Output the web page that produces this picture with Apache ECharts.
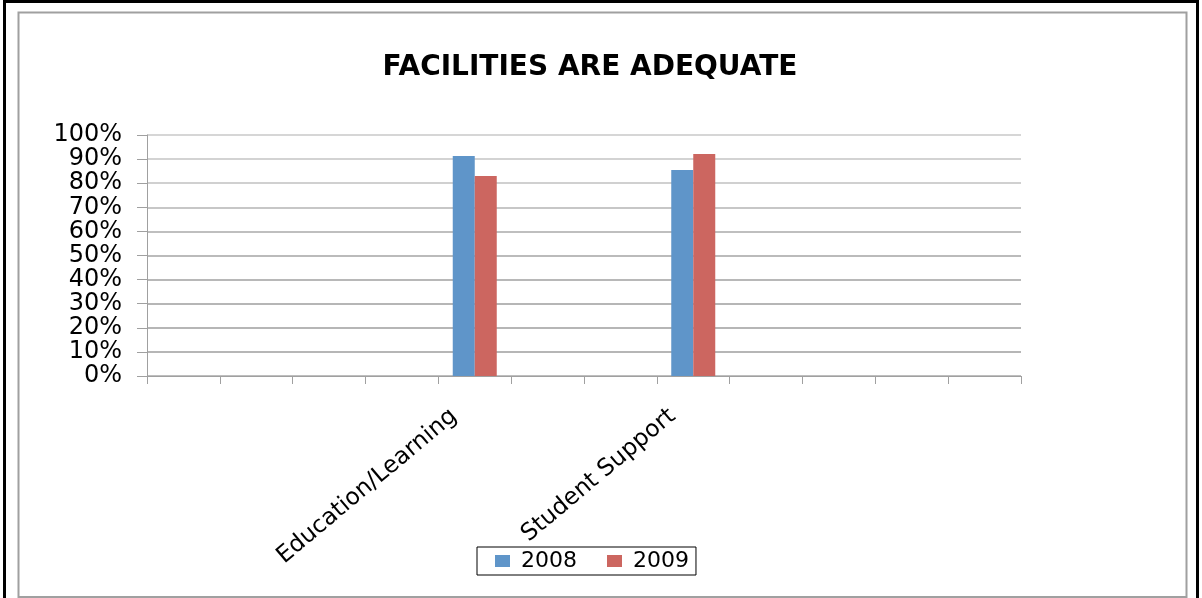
<!DOCTYPE html>
<html>
<head>
<meta charset="utf-8">
<title>Facilities Are Adequate</title>
<script src="https://cdn.jsdelivr.net/npm/echarts@6/dist/echarts.min.js"></script>
<style>
  html, body { margin: 0; padding: 0; background: #ffffff; }
  #chart { width: 1202px; height: 598px; }
</style>
</head>
<body>
<div id="chart"></div>
<script>
// Category slots along the x axis; only two carry survey results
const categories = ['', '', '', '', 'Education/Learning', '', '', 'Student Support', '', '', '', ''];
const values2008 = [null, null, null, null, 91.3, null, null, 85.5, null, null, null, null];
const values2009 = [null, null, null, null, 83.0, null, null, 92.1, null, null, null, null];
const seriesNames = ['2008', '2009'];
const yTicks = [0, 10, 20, 30, 40, 50, 60, 70, 80, 90, 100];

const FONT = '"DejaVu Sans", "Open Sans", sans-serif';

const chart = echarts.init(document.getElementById('chart'), null, { renderer: 'canvas' });

chart.setOption({
  animation: false,
  backgroundColor: '#ffffff',
  title: {
    text: 'FACILITIES ARE ADEQUATE',
    left: 585,
    textAlign: 'center',
    top: 49,
    textStyle: { fontFamily: FONT, fontSize: 28, fontWeight: 'bold', color: '#000000' }
  },
  legend: {
    data: seriesNames,
    left: 477,
    top: 547,
    orient: 'horizontal',
    itemWidth: 15,
    itemHeight: 12,
    itemGap: 30,
    padding: [3, 7, 3, 18],
    borderColor: '#000000',
    borderWidth: 1,
    icon: 'rect',
    textStyle: { fontFamily: FONT, fontSize: 22, color: '#000000', padding: [0, 0, 0, 6] }
  },
  grid: { left: 147, right: 181, top: 135, bottom: 222, containLabel: false },
  xAxis: {
    type: 'category',
    data: categories,
    axisLine: { lineStyle: { color: '#a0a0a0', width: 1 } },
    axisTick: { show: true, length: 8, interval: 0, lineStyle: { color: '#a0a0a0' } },
    axisLabel: {
      interval: 0,
      rotate: 40,
      margin: 20,
      padding: [0, 27, 0, 0],
      fontFamily: FONT,
      fontSize: 23.5,
      color: '#000000'
    },
    splitLine: { show: false }
  },
  yAxis: {
    type: 'value',
    min: 0,
    max: 100,
    interval: 10,
    axisLine: { show: true, lineStyle: { color: '#a0a0a0', width: 1 } },
    axisTick: { show: true, length: 10, lineStyle: { color: '#a0a0a0' } },
    axisLabel: {
      margin: 25,
      fontFamily: FONT,
      fontSize: 24,
      color: '#000000',
      formatter: function (v) { return yTicks.indexOf(v) >= 0 ? v + '%' : ''; }
    },
    splitLine: {
      show: true,
      lineStyle: {
        width: 1.5,
        color: ['#a8a8a8', '#9e9e9e', '#9e9e9e', '#9e9e9e', '#a0a0a0', '#a4a4a4', '#aaaaaa', '#b4b4b4', '#c0c0c0', '#c4c4c4', '#c8c8c8']
      }
    }
  },
  series: [
    {
      name: seriesNames[0],
      type: 'bar',
      data: values2008,
      barWidth: 22,
      barGap: '0%',
      itemStyle: { color: '#5f95c9' }
    },
    {
      name: seriesNames[1],
      type: 'bar',
      data: values2009,
      barWidth: 22,
      barGap: '0%',
      itemStyle: { color: '#cc6660' }
    }
  ],
  graphic: [
    {
      type: 'rect',
      silent: true,
      shape: { x: 4.5, y: 1.5, width: 1193, height: 640 },
      style: { fill: 'none', stroke: '#000000', lineWidth: 3 }
    },
    {
      type: 'rect',
      silent: true,
      shape: { x: 18.5, y: 12.5, width: 1168, height: 584.5 },
      style: { fill: 'none', stroke: '#a0a0a0', lineWidth: 2 }
    }
  ]
});
</script>
</body>
</html>
